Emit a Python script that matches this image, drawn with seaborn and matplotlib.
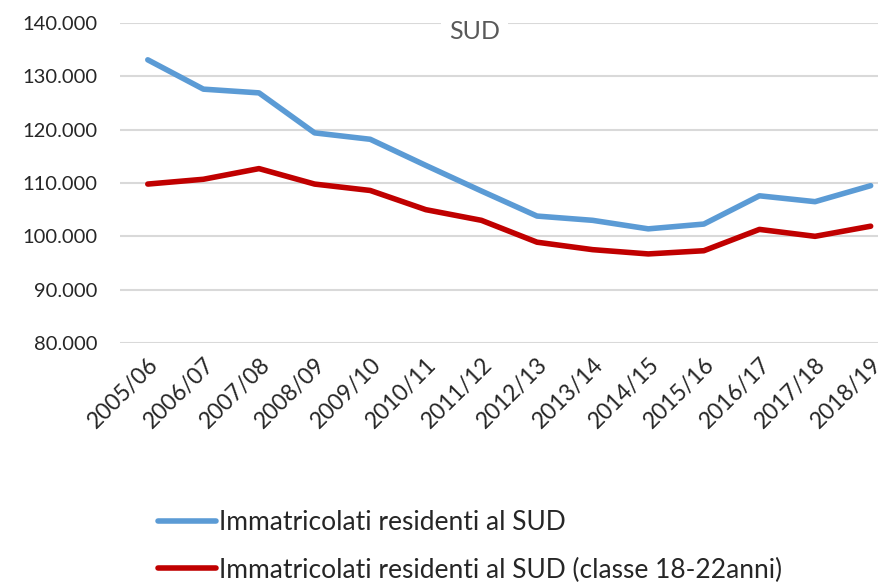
import numpy as np
import pandas as pd
import matplotlib
matplotlib.use("Agg")
import matplotlib.pyplot as plt
import seaborn as sns

# --- dati ---
anni = ['2005/06', '2006/07', '2007/08', '2008/09', '2009/10', '2010/11', '2011/12',
        '2012/13', '2013/14', '2014/15', '2015/16', '2016/17', '2017/18', '2018/19']
immatricolati = [133.1, 127.6, 126.9, 119.4, 118.2, 113.3, 108.5,
                 103.8, 103.0, 101.4, 102.3, 107.6, 106.5, 109.5]
immatricolati_18_22 = [109.8, 110.7, 112.7, 109.8, 108.6, 105.0, 103.0,
                       98.9, 97.5, 96.7, 97.3, 101.3, 100.0, 101.9]
serie = ['Immatricolati residenti al SUD',
         'Immatricolati residenti al SUD (classe 18-22anni)']
colori = ['#5b9bd5', '#c00000']

df = pd.DataFrame({
    'anno': anni * 2,
    'valore': np.array(immatricolati + immatricolati_18_22) * 1000,
    'serie': [serie[0]] * len(anni) + [serie[1]] * len(anni),
})
df['pos'] = list(range(len(anni))) * 2

sns.set_style('white')
plt.rcParams['font.family'] = ['Lato', 'DejaVu Sans']

fig = plt.figure(figsize=(8.79, 5.83), dpi=100)
ax = fig.add_axes([0.1365, 0.4117, 0.8635, 0.5488])

sns.lineplot(data=df, x='pos', y='valore', hue='serie', palette=colori,
             linewidth=4, ax=ax, legend=False, sort=False)

ax.set_ylim(80000, 140000)
ax.set_yticks(range(80000, 140001, 10000))
ax.set_yticklabels([f'{v // 1000}.000' for v in range(80000, 140001, 10000)], fontsize=14.5)
ax.set_xlim(-0.5, 13.15)
ax.set_xticks(range(len(anni)))
ax.set_xticklabels(anni, rotation=45, ha='right', rotation_mode='anchor', fontsize=16.5)
ax.tick_params(axis='y', length=0, pad=16)
ax.tick_params(axis='x', length=0, pad=8)
ax.set_xlabel('')
ax.set_ylabel('')
ax.grid(axis='y', color='#d9d9d9', linewidth=1.5)
ax.set_axisbelow(True)
for s in ax.spines.values():
    s.set_visible(False)

ax.text(0.467, 0.975, 'SUD', transform=ax.transAxes, ha='center', va='center',
        fontsize=18, color='#595959',
        bbox=dict(facecolor='white', edgecolor='none', pad=6))

handles = [plt.Line2D([], [], color=c, linewidth=4) for c in colori]
fig.legend(handles, serie, loc='upper left', bbox_to_anchor=(0.168, 0.143),
           frameon=False, fontsize=19, handlelength=2.2, handletextpad=0.1,
           labelspacing=0.85, borderaxespad=0)

fig.savefig('out.png', dpi=100)
